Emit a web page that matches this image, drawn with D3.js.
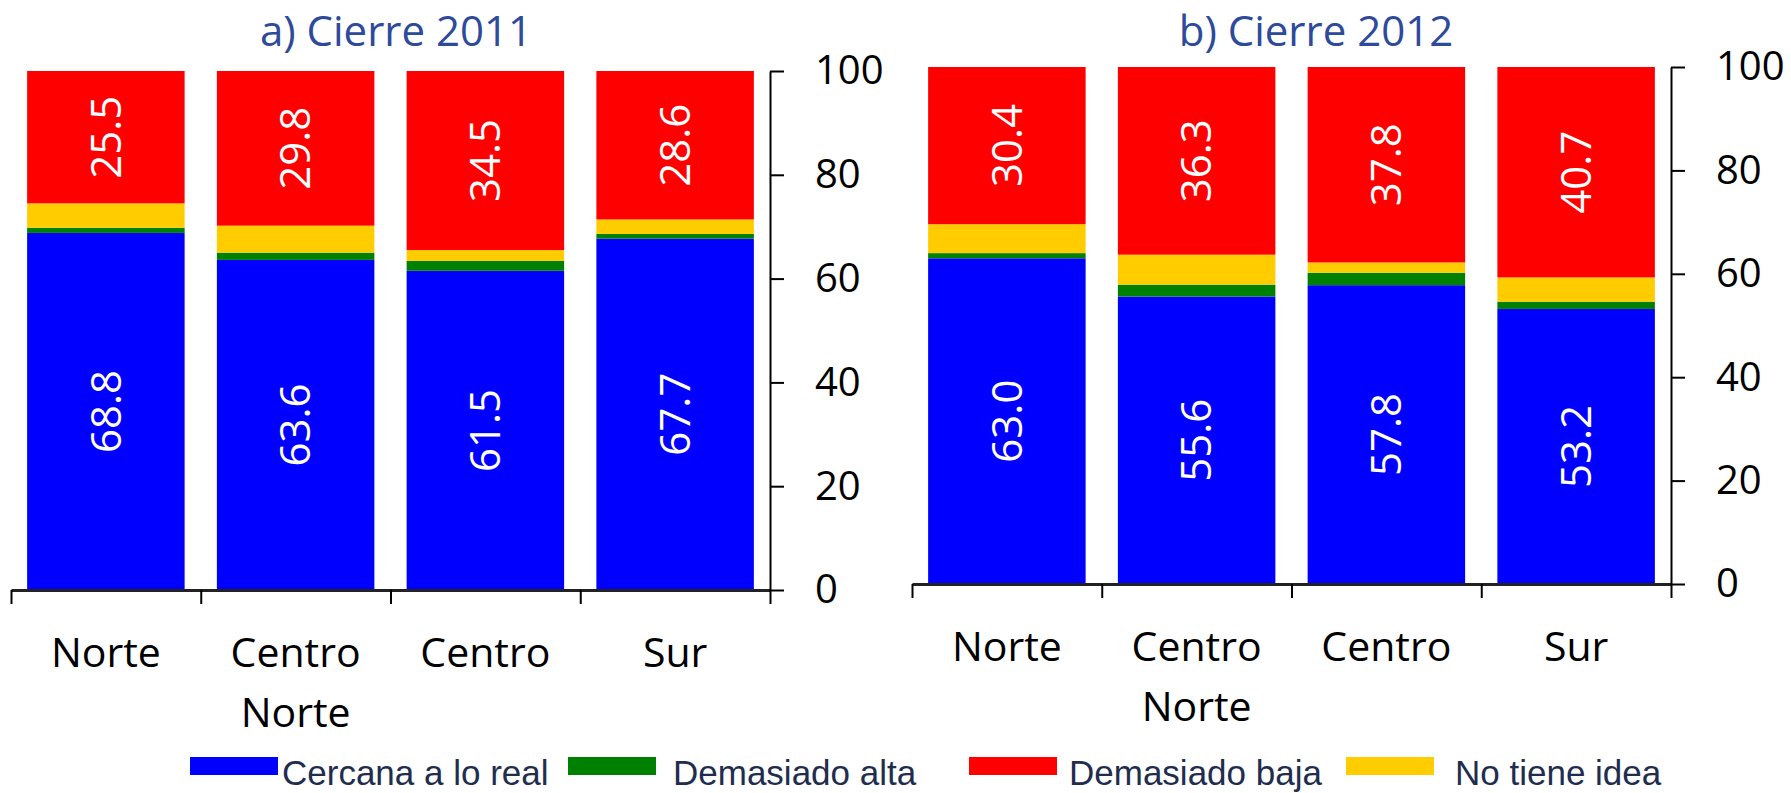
<!DOCTYPE html>
<html>
<head>
<meta charset="utf-8">
<script src="https://cdn.jsdelivr.net/npm/d3@7"></script>
<style>
  html, body { margin: 0; padding: 0; background: #fff; }
  svg { display: block; }
</style>
</head>
<body>
<div id="chart"></div>
<script>
// ---- Data ----
const regions = ["Norte", "Centro Norte", "Centro", "Sur"];
const seriesNames = ["Cercana a lo real", "Demasiado alta", "Demasiado baja", "No tiene idea"];
const seriesColors = ["#0000FF", "#008000", "#FF0000", "#FFCC00"];
// stacking order bottom -> top
const stackOrder = ["Cercana a lo real", "Demasiado alta", "No tiene idea", "Demasiado baja"];
const labelled = ["Cercana a lo real", "Demasiado baja"];
const yTicks = [0, 20, 40, 60, 80, 100];

const cercana2011 = [68.8, 63.6, 61.5, 67.7];
const alta2011    = [1.0, 1.4, 1.9, 0.9];
const baja2011    = [25.5, 29.8, 34.5, 28.6];
const noIdea2011  = [4.7, 5.2, 2.1, 2.8];

const cercana2012 = [63.0, 55.6, 57.8, 53.2];
const alta2012    = [1.0, 2.3, 2.4, 1.4];
const baja2012    = [30.4, 36.3, 37.8, 40.7];
const noIdea2012  = [5.6, 5.8, 2.0, 4.7];

const titles = ["a) Cierre 2011", "b) Cierre 2012"];

// ---- Layout ----
const width = 1791, height = 793;
const panels = [
  { title: titles[0], x0: 11, x1: 770, yBase: 590, yTop: 71, titleX: 396,
    values: [cercana2011, alta2011, baja2011, noIdea2011] },
  { title: titles[1], x0: 912, x1: 1671, yBase: 584, yTop: 67, titleX: 1316,
    values: [cercana2012, alta2012, baja2012, noIdea2012] }
];
// legend item anchors (swatch left, text left)
const legendSwatchX = [190, 568, 969, 1346];
const legendTextX = [282, 673, 1069, 1455];

const font = "'Open Sans', sans-serif";
const color = d3.scaleOrdinal(seriesNames, seriesColors);

const svg = d3.select("#chart").append("svg")
  .attr("width", width)
  .attr("height", height)
  .attr("viewBox", [0, 0, width, height]);

panels.forEach(p => {
  const g = svg.append("g");

  const rows = regions.map((r, i) => {
    const row = { region: r };
    seriesNames.forEach((s, j) => { row[s] = p.values[j][i]; });
    return row;
  });
  const stacked = d3.stack().keys(stackOrder)(rows);

  const x = d3.scaleBand(regions, [p.x0, p.x1]).paddingInner(0.17).paddingOuter(0.085);
  const y = d3.scaleLinear([0, 100], [p.yBase, p.yTop]);
  const edge = d3.scaleLinear([0, regions.length], [p.x0, p.x1]);

  // title
  g.append("text")
    .attr("x", p.titleX)
    .attr("y", 46)
    .attr("text-anchor", "middle")
    .attr("font-family", font)
    .attr("font-size", 42)
    .attr("fill", "#2E4A9A")
    .text(p.title);

  // bars
  g.selectAll("g.layer")
    .data(stacked)
    .join("g")
    .attr("class", "layer")
    .attr("fill", d => color(d.key))
    .selectAll("rect")
    .data(d => d)
    .join("rect")
    .attr("x", d => x(d.data.region))
    .attr("width", x.bandwidth())
    .attr("y", d => y(d[1]))
    .attr("height", d => y(d[0]) - y(d[1]));

  // value labels
  stacked.filter(l => labelled.includes(l.key)).forEach(layer => {
    g.selectAll(null)
      .data(layer)
      .join("text")
      .attr("transform", d => `translate(${x(d.data.region) + x.bandwidth() / 2},${y((d[0] + d[1]) / 2)}) rotate(-90)`)
      .attr("text-anchor", "middle")
      .attr("dy", "0.35em")
      .attr("font-family", font)
      .attr("font-size", 42)
      .attr("fill", "#fff")
      .text(d => d3.format(".1f")(d.data[layer.key]));
  });

  // x axis: ticks at category boundaries
  const xAxis = g.append("g")
    .attr("transform", `translate(0,${p.yBase})`)
    .call(d3.axisBottom(edge).tickValues(d3.range(regions.length + 1)).tickFormat("").tickSize(14).tickSizeOuter(0));
  xAxis.select(".domain").attr("stroke", "#222").attr("stroke-width", 3);
  xAxis.selectAll(".tick line").attr("stroke", "#000").attr("stroke-width", 2);

  // category labels
  const cat = g.selectAll("text.cat")
    .data(regions)
    .join("text")
    .attr("class", "cat")
    .attr("x", d => x(d) + x.bandwidth() / 2)
    .attr("y", p.yBase + 77)
    .attr("text-anchor", "middle")
    .attr("font-family", font)
    .attr("font-size", 41)
    .attr("fill", "#000");
  cat.selectAll("tspan")
    .data(d => d.split(" "))
    .join("tspan")
    .attr("x", function() { return d3.select(this.parentNode).attr("x"); })
    .attr("dy", (d, i) => i === 0 ? 0 : 60)
    .text(d => d);

  // y axis on the right
  const yAxis = g.append("g")
    .attr("transform", `translate(${p.x1},0)`)
    .call(d3.axisRight(y).tickValues(yTicks).tickSize(14).tickSizeOuter(0).tickPadding(31));
  yAxis.select(".domain").attr("stroke", "#000").attr("stroke-width", 2);
  yAxis.selectAll(".tick line").attr("stroke", "#000").attr("stroke-width", 2);
  yAxis.selectAll(".tick text")
    .attr("font-family", font)
    .attr("font-size", 40)
    .attr("fill", "#000");
});

// ---- Legend ----
const legend = svg.append("g").selectAll("g")
  .data(seriesNames)
  .join("g");
legend.append("rect")
  .attr("x", (d, i) => legendSwatchX[i])
  .attr("y", 757)
  .attr("width", 88)
  .attr("height", 18)
  .attr("fill", d => color(d));
legend.append("text")
  .attr("x", (d, i) => legendTextX[i])
  .attr("y", 785)
  .attr("font-family", "'Liberation Sans', Arial, sans-serif")
  .attr("font-size", 35)
  .attr("fill", "#1F2D4E")
  .text(d => d);
</script>
</body>
</html>
